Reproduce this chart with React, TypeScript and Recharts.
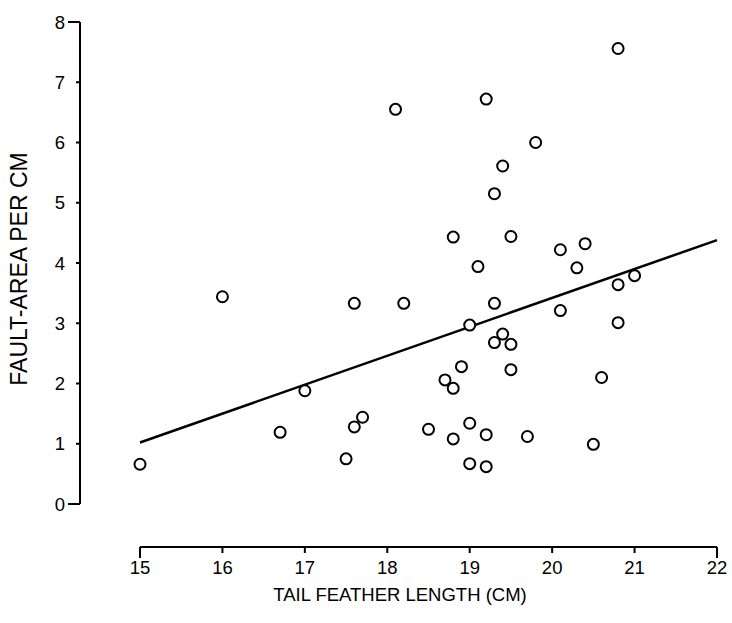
import { ScatterChart, Scatter, XAxis, YAxis, ReferenceLine } from "recharts";

// tail feather length (cm) and fault-area per cm, one entry per bird
const tailLength = [
  15.0, 16.0, 16.7, 17.0, 17.5, 17.6, 17.6, 17.7, 18.1, 18.2, 18.5, 18.7, 18.8, 18.8, 18.8,
  18.9, 19.0, 19.0, 19.0, 19.1, 19.2, 19.2, 19.2, 19.3, 19.3, 19.3, 19.4, 19.4, 19.5, 19.5,
  19.5, 19.7, 19.8, 20.1, 20.1, 20.3, 20.4, 20.5, 20.6, 20.8, 20.8, 20.8, 21.0,
];
const faultArea = [
  0.66, 3.44, 1.19, 1.88, 0.75, 3.33, 1.28, 1.44, 6.55, 3.33, 1.24, 2.06, 1.92, 1.08, 4.43,
  2.28, 2.97, 1.34, 0.67, 3.94, 6.72, 1.15, 0.62, 3.33, 2.68, 5.15, 5.61, 2.82, 4.44, 2.65,
  2.23, 1.12, 6.0, 4.22, 3.21, 3.92, 4.32, 0.99, 2.1, 7.56, 3.64, 3.01, 3.79,
];

// fitted line end points
const fitX = [15, 22];
const fitY = [1.02, 4.38];

const xTicks = [15, 16, 17, 18, 19, 20, 21, 22];
const yTicks = [0, 1, 2, 3, 4, 5, 6, 7, 8];

const points = tailLength.map((x, i) => ({ x, y: faultArea[i] }));

const FONT = "'Liberation Sans', Arial, Helvetica, sans-serif";

const YTick = (props: any) => {
  const { x, y, payload, index, visibleTicksCount } = props;
  const isEnd = index === 0 || index === visibleTicksCount - 1;
  return (
    <g>
      <line x1={x} y1={y} x2={x - (isEnd ? 12 : 4)} y2={y} stroke="#000" strokeWidth={2} />
      <text x={x - 15} y={y + 6.5} textAnchor="end" fontSize={18.5} fontFamily={FONT} fill="#000">
        {payload.value}
      </text>
    </g>
  );
};

const XTick = (props: any) => {
  const { x, y, payload, index, visibleTicksCount } = props;
  const isEnd = index === 0 || index === visibleTicksCount - 1;
  return (
    <g>
      <line x1={x} y1={y} x2={x} y2={y + (isEnd ? 11 : 6)} stroke="#000" strokeWidth={2} />
      <text x={x} y={y + 27} textAnchor="middle" fontSize={18.5} fontFamily={FONT} fill="#000">
        {payload.value}
      </text>
    </g>
  );
};

export default function App() {
  return (
    <div style={{ position: "absolute", left: 0, top: 0, background: "#fff" }}>
      <ScatterChart width={732} height={623} margin={{ top: 22, right: 15, bottom: 16, left: 20 }}>
        {/* spacer axes keep the real axes detached from the plot */}
        <XAxis xAxisId="gap" type="number" domain={[0, 1]} height={43} tick={false} axisLine={false} tickLine={false} />
        <XAxis
          xAxisId="main"
          type="number"
          dataKey="x"
          domain={[15, 22]}
          ticks={xTicks}
          height={60}
          axisLine={{ stroke: "#000", strokeWidth: 2 }}
          tickLine={false}
          tickSize={0}
          tickMargin={0}
          tick={<XTick />}
          label={{
            content: () => (
              <text x={400} y={601} textAnchor="middle" fontSize={18.5} fontFamily={FONT} fill="#000">
                TAIL FEATHER LENGTH (CM)
              </text>
            ),
          }}
        />
        <YAxis yAxisId="gap" type="number" domain={[0, 1]} width={60} tick={false} axisLine={false} tickLine={false} />
        <YAxis
          yAxisId="main"
          type="number"
          dataKey="y"
          domain={[0, 8]}
          ticks={yTicks}
          width={60}
          axisLine={{ stroke: "#000", strokeWidth: 2 }}
          tickLine={false}
          tickSize={0}
          tickMargin={0}
          tick={<YTick />}
          label={{
            content: () => (
              <text
                x={0}
                y={0}
                transform="translate(27 269) rotate(-90)"
                textAnchor="middle"
                fontSize={23}
                fontFamily={FONT}
                fill="#000"
              >
                FAULT-AREA PER CM
              </text>
            ),
          }}
        />
        <ReferenceLine
          xAxisId="main"
          yAxisId="main"
          segment={[
            { x: fitX[0], y: fitY[0] },
            { x: fitX[1], y: fitY[1] },
          ]}
          stroke="#000"
          strokeWidth={2.5}
        />
        <Scatter
          xAxisId="main"
          yAxisId="main"
          data={points}
          isAnimationActive={false}
          shape={(p: any) => <circle cx={p.cx} cy={p.cy} r={5.5} fill="#fff" stroke="#000" strokeWidth={2} />}
        />
      </ScatterChart>
    </div>
  );
}
